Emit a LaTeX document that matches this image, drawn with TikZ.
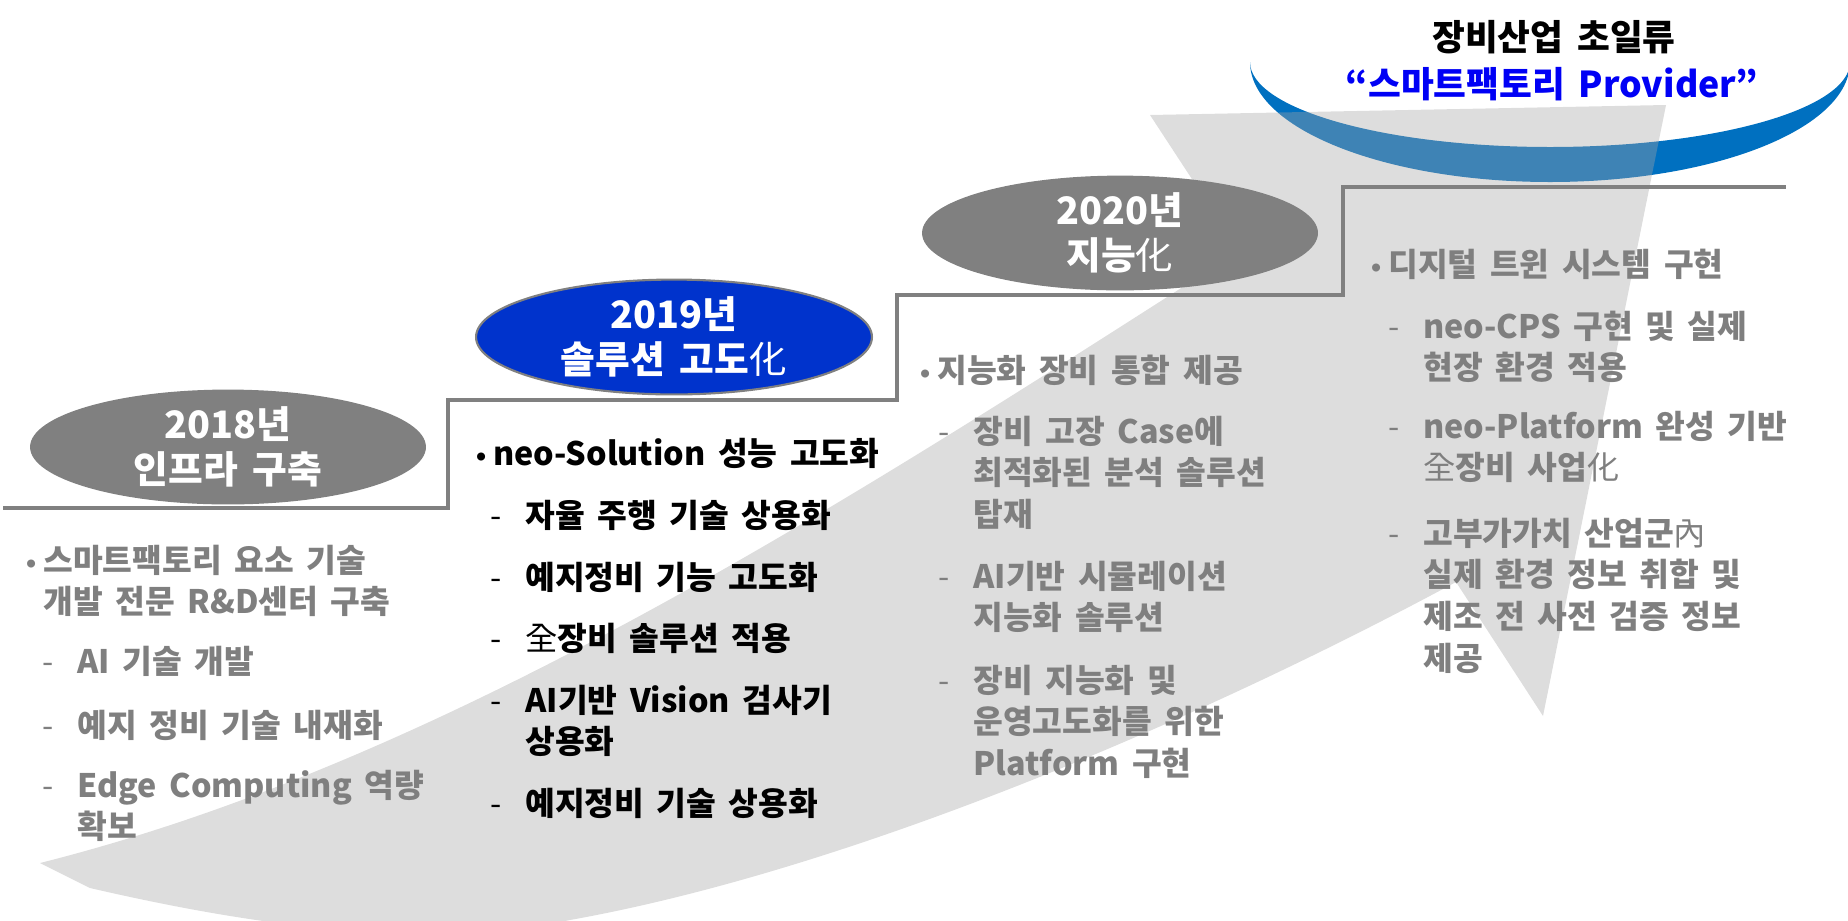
\documentclass[tikz,border=0pt]{standalone}
\usepackage{fontspec}
\setmainfont{Noto Sans CJK KR}[WordSpace=1.7]
\newfontfamily\dotfont{DejaVu Sans}
\usepackage{tikz}
\usetikzlibrary{shapes.geometric}

\definecolor{txtgray}{RGB}{127,127,127}
\definecolor{ovalgray}{RGB}{128,128,128}
\definecolor{ovalblue}{RGB}{0,51,204}
\definecolor{linegray}{RGB}{128,128,128}
\definecolor{arcblue}{RGB}{0,112,192}
\definecolor{arrowgray}{RGB}{165,165,165}
\definecolor{provblue}{RGB}{0,0,245}

\newcommand{\bodyfont}{\fontsize{18.4pt}{23.8pt}\selectfont}
\newcommand{\ovalfont}{\fontsize{21.5pt}{26pt}\selectfont}
\newcommand{\headfont}{\fontsize{20.3pt}{24pt}\selectfont}
\newcommand{\hj}[1]{{\mdseries #1}}
\newcommand{\bul}{\llap{{\dotfont\fontsize{13pt}{13pt}\selectfont •}\hspace{0.1cm}}}
\newcommand{\dsh}{\llap{{\mdseries -}\hspace{0.47cm}}}
\newcommand{\entry}[1]{\parbox[t]{9cm}{\raggedright\leavevmode #1}}

\begin{document}
\begin{tikzpicture}[x=0.02cm,y=-0.02cm,
	yearoval/.style={ellipse,minimum width=7.92cm,minimum height=2.16cm,inner sep=0pt,align=center,text=white,font=\ovalfont\bfseries},
	txt/.style={anchor=base west,inner sep=0pt,font=\bodyfont\bfseries}]
	\useasboundingbox (0,0) rectangle (1848,920);
	\clip (0,0) rectangle (1848,920);

	% crescent under the title
	\fill[arcblue] (1250,62) arc[start angle=180,end angle=0,x radius=300,y radius=120]
		arc[start angle=0,end angle=180,x radius=300,y radius=85] -- cycle;

	% rising arrow
	\fill[arrowgray,fill opacity=0.375] (40,863) .. controls (450,760) and (850,500) .. (1239,251)
		-- (1150,115) -- (1666,105) -- (1543,716) -- (1456,582)
		.. controls (1200,720) and (850,870) .. (570,920)
		.. controls (420,950) and (250,925) .. (90,888) -- cycle;

	% stairs
	\draw[linegray,line width=0.07cm] (3,508) -| (448,400) -| (897,295) -| (1343,187) -- (1786,187);

	\node[yearoval,fill=ovalgray] (y2018) at (228,447) {2018년\\인프라 구축};
	\node[yearoval,fill=ovalblue,draw=linegray,line width=1.2pt] (y2019) at (674,337) {2019년\\솔루션 고도\hj{化}};
	\node[yearoval,fill=ovalgray] (y2020) at (1120,233) {2020년\\지능\hj{化}};

	\node[anchor=base,inner sep=0pt,font=\headfont\bfseries] (title) at (1554,50) {장비산업 초일류};
	\node[anchor=base,inner sep=0pt,font=\headfont\bfseries,text=provblue] (slogan) at (1552,97) {“스마트팩토리 Provider”};

	% 2018
	\node[txt,text=txtgray] (infra) at (43,572) {\entry{\bul 스마트팩토리 요소 기술\\개발 전문 R\&D센터 구축}};
	\foreach \y/\t [count=\i] in {673/{AI 기술 개발},737/{예지 정비 기술 내재화},797/{Edge Computing 역량\\확보}}
		\node[txt,text=txtgray] (infra-\i) at (77,\y) {\entry{\dsh \t}};

	% 2019
	\node[txt] (solution) at (493,465) {\entry{\bul neo-Solution 성능 고도화}};
	\foreach \y/\t [count=\i] in {527/{자율 주행 기술 상용화},589/{예지정비 기능 고도화},650/{\hj{全}장비 솔루션 적용},
			712/{AI기반 Vision 검사기\\상용화},815/{예지정비 기술 상용화}}
		\node[txt] (solution-\i) at (525,\y) {\entry{\dsh \t}};

	% 2020
	\node[txt,text=txtgray] (smart) at (937,382) {\entry{\bul 지능화 장비 통합 제공}};
	\foreach \y/\t [count=\i] in {443/{장비 고장 Case에\\최적화된 분석 솔루션\\탑재},588/{AI기반 시뮬레이션\\지능화 솔루션},
			692/{장비 지능화 및\\운영고도화를 위한\\Platform 구현}}
		\node[txt,text=txtgray] (smart-\i) at (973,\y) {\entry{\dsh \t}};

	% digital twin
	\node[txt,text=txtgray] (twin) at (1388,276) {\entry{\bul 디지털 트윈 시스템 구현}};
	\foreach \y/\t [count=\i] in {338/{neo-CPS 구현 및 실제\\현장 환경 적용},438/{neo-Platform 완성 기반\\\hj{全}장비 사업\hj{化}},
			545/{고부가가치 산업군\hj{內}\\실제 환경 정보 취합 및\\제조 전 사전 검증 정보\\제공}}
		\node[txt,text=txtgray] (twin-\i) at (1423,\y) {\entry{\dsh \t}};
\end{tikzpicture}
\end{document}
